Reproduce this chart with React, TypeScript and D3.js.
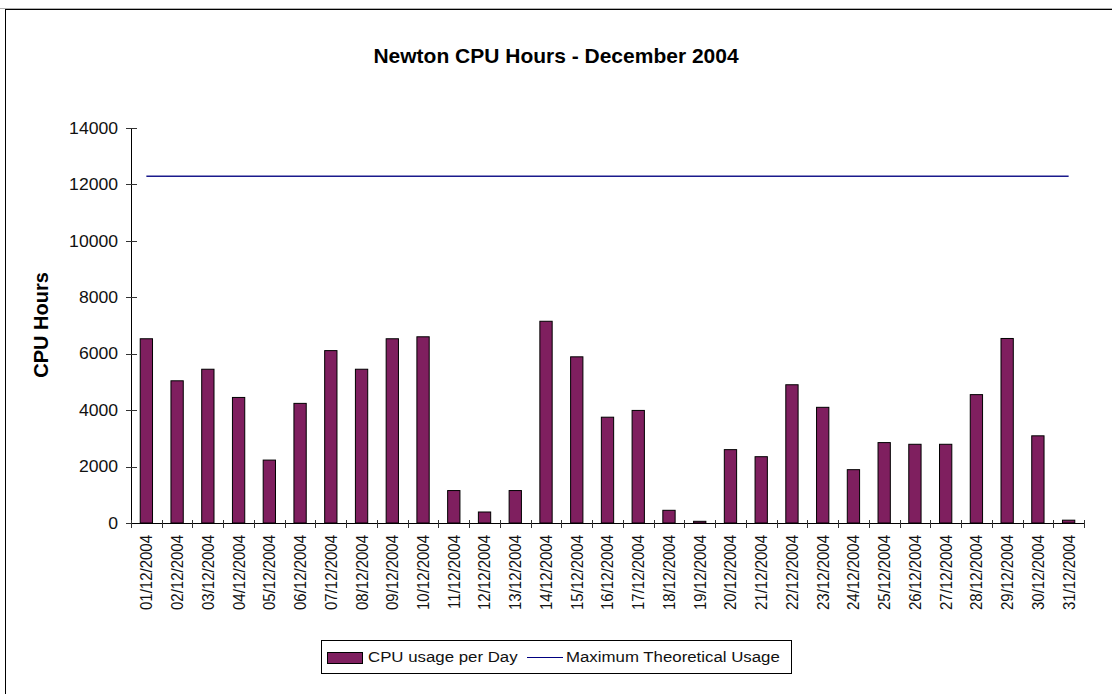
import { useEffect, useRef } from "react";
import * as d3 from "d3";

// days of December 2004
const days: string[] = d3.range(1, 32).map((d) => `${String(d).padStart(2, "0")}/12/2004`);

// CPU hours used per day
const cpuUsage: number[] = [
   6530, 5040, 5450, 4450, 2230, 4240, 6110, 5450, 6530, 6600, 1150, 390, 1150, 7150, 5890, 3750,
   3990, 450, 60, 2600, 2350, 4900, 4100, 1890, 2850, 2790, 2790, 4550, 6540, 3090, 100,
];

// maximum theoretical usage (512 cpus * 24h)
const maxUsage: number[] = days.map(() => 12288);

const yTicks: number[] = [0, 2000, 4000, 6000, 8000, 10000, 12000, 14000];

const FONT = "'Liberation Sans', Arial, Helvetica, sans-serif";
const BAR_COLOR = "#7f1f5f";
const LINE_COLOR = "#1a1a8c";

export default function App() {
   const ref = useRef<SVGSVGElement>(null);

   useEffect(() => {
      const width = 1112;
      const height = 694;
      const plot = { left: 131, right: 1084, top: 128, bottom: 523 };

      const svg = d3.select(ref.current).attr("width", width).attr("height", height);
      svg.selectAll("*").remove();

      // frame
      svg.append("line")
         .attr("x1", 0).attr("x2", width).attr("y1", 8.5).attr("y2", 8.5)
         .attr("stroke", "#b0b0b0");
      svg.append("rect")
         .attr("x", 5.5).attr("y", 9.5)
         .attr("width", width + 10).attr("height", height + 10)
         .attr("fill", "white").attr("stroke", "black");

      const x = d3.scaleBand<string>().domain(days).range([plot.left, plot.right]).padding(0);
      const y = d3.scaleLinear().domain([0, 14000]).range([plot.bottom, plot.top]);
      const barWidth = x.step() / 2.5;

      // title
      svg.append("text")
         .attr("transform", `translate(556,63) scale(1.05,1)`)
         .attr("text-anchor", "middle")
         .attr("font-family", FONT)
         .attr("font-weight", "bold")
         .attr("font-size", "20px")
         .text("Newton CPU Hours - December 2004");

      // y axis title
      svg.append("text")
         .attr("transform", `translate(48,325) rotate(-90)`)
         .attr("text-anchor", "middle")
         .attr("font-family", FONT)
         .attr("font-weight", "bold")
         .attr("font-size", "20px")
         .text("CPU Hours");

      // bars
      svg.append("g")
         .selectAll("rect")
         .data(cpuUsage)
         .join("rect")
         .attr("x", (d, i) => (x(days[i]) as number) + x.bandwidth() / 2 - barWidth / 2)
         .attr("y", (d) => y(d))
         .attr("width", barWidth)
         .attr("height", (d) => y(0) - y(d))
         .attr("fill", BAR_COLOR)
         .attr("stroke", "black")
         .attr("stroke-width", 1);

      // max theoretical usage line
      const line = d3
         .line<number>()
         .x((d, i) => (x(days[i]) as number) + x.bandwidth() / 2)
         .y((d) => y(d));
      svg.append("path")
         .attr("d", line(maxUsage))
         .attr("fill", "none")
         .attr("stroke", LINE_COLOR)
         .attr("stroke-width", 1.4);

      // y axis
      const gy = svg.append("g");
      gy.append("line")
         .attr("x1", plot.left + 0.5).attr("x2", plot.left + 0.5)
         .attr("y1", plot.top).attr("y2", plot.bottom)
         .attr("stroke", "black");
      yTicks.forEach((t) => {
         const ty = Math.round(y(t)) + 0.5;
         gy.append("line")
            .attr("x1", plot.left - 5).attr("x2", plot.left + 6)
            .attr("y1", ty).attr("y2", ty)
            .attr("stroke", "#333");
         gy.append("text")
            .attr("transform", `translate(118,${y(t)}) scale(1.1,1)`)
            .attr("dy", "0.36em")
            .attr("text-anchor", "end")
            .attr("font-family", FONT)
            .attr("font-size", "16px")
            .attr("fill", "#111")
            .text(t);
      });

      // x axis
      const gx = svg.append("g");
      gx.append("line")
         .attr("x1", plot.left).attr("x2", plot.right)
         .attr("y1", plot.bottom + 0.5).attr("y2", plot.bottom + 0.5)
         .attr("stroke", "black");
      [...days.map((d) => x(d) as number), plot.right].forEach((tx) => {
         const px = Math.round(tx) + 0.5;
         gx.append("line")
            .attr("x1", px).attr("x2", px)
            .attr("y1", plot.bottom - 3).attr("y2", plot.bottom + 5)
            .attr("stroke", "#333");
      });
      days.forEach((d) => {
         const cx = (x(d) as number) + x.bandwidth() / 2;
         gx.append("text")
            .attr("transform", `translate(${cx},535) scale(1.1,1) rotate(-90)`)
            .attr("dy", "0.36em")
            .attr("text-anchor", "end")
            .attr("font-family", FONT)
            .attr("font-size", "15px")
            .attr("fill", "#111")
            .text(d);
      });

      // legend
      const lg = svg.append("g");
      lg.append("rect")
         .attr("x", 321.5).attr("y", 640.5).attr("width", 470).attr("height", 33)
         .attr("fill", "white").attr("stroke", "black");
      lg.append("rect")
         .attr("x", 327.5).attr("y", 652.5).attr("width", 35).attr("height", 11)
         .attr("fill", BAR_COLOR).attr("stroke", "black");
      lg.append("text")
         .attr("transform", `translate(368,662) scale(1.1,1)`)
         .attr("font-family", FONT)
         .attr("font-size", "15.3px")
         .attr("fill", "#111")
         .text("CPU usage per Day");
      lg.append("line")
         .attr("x1", 527).attr("x2", 563).attr("y1", 657.5).attr("y2", 657.5)
         .attr("stroke", "#000080");
      lg.append("text")
         .attr("transform", `translate(566,662) scale(1.1,1)`)
         .attr("font-family", FONT)
         .attr("font-size", "15.3px")
         .attr("fill", "#111")
         .text("Maximum Theoretical Usage");
   }, []);

   return (
      <div style={{ position: "absolute", left: 0, top: 0 }}>
         <svg ref={ref} style={{ display: "block" }}></svg>
      </div>
   );
}
